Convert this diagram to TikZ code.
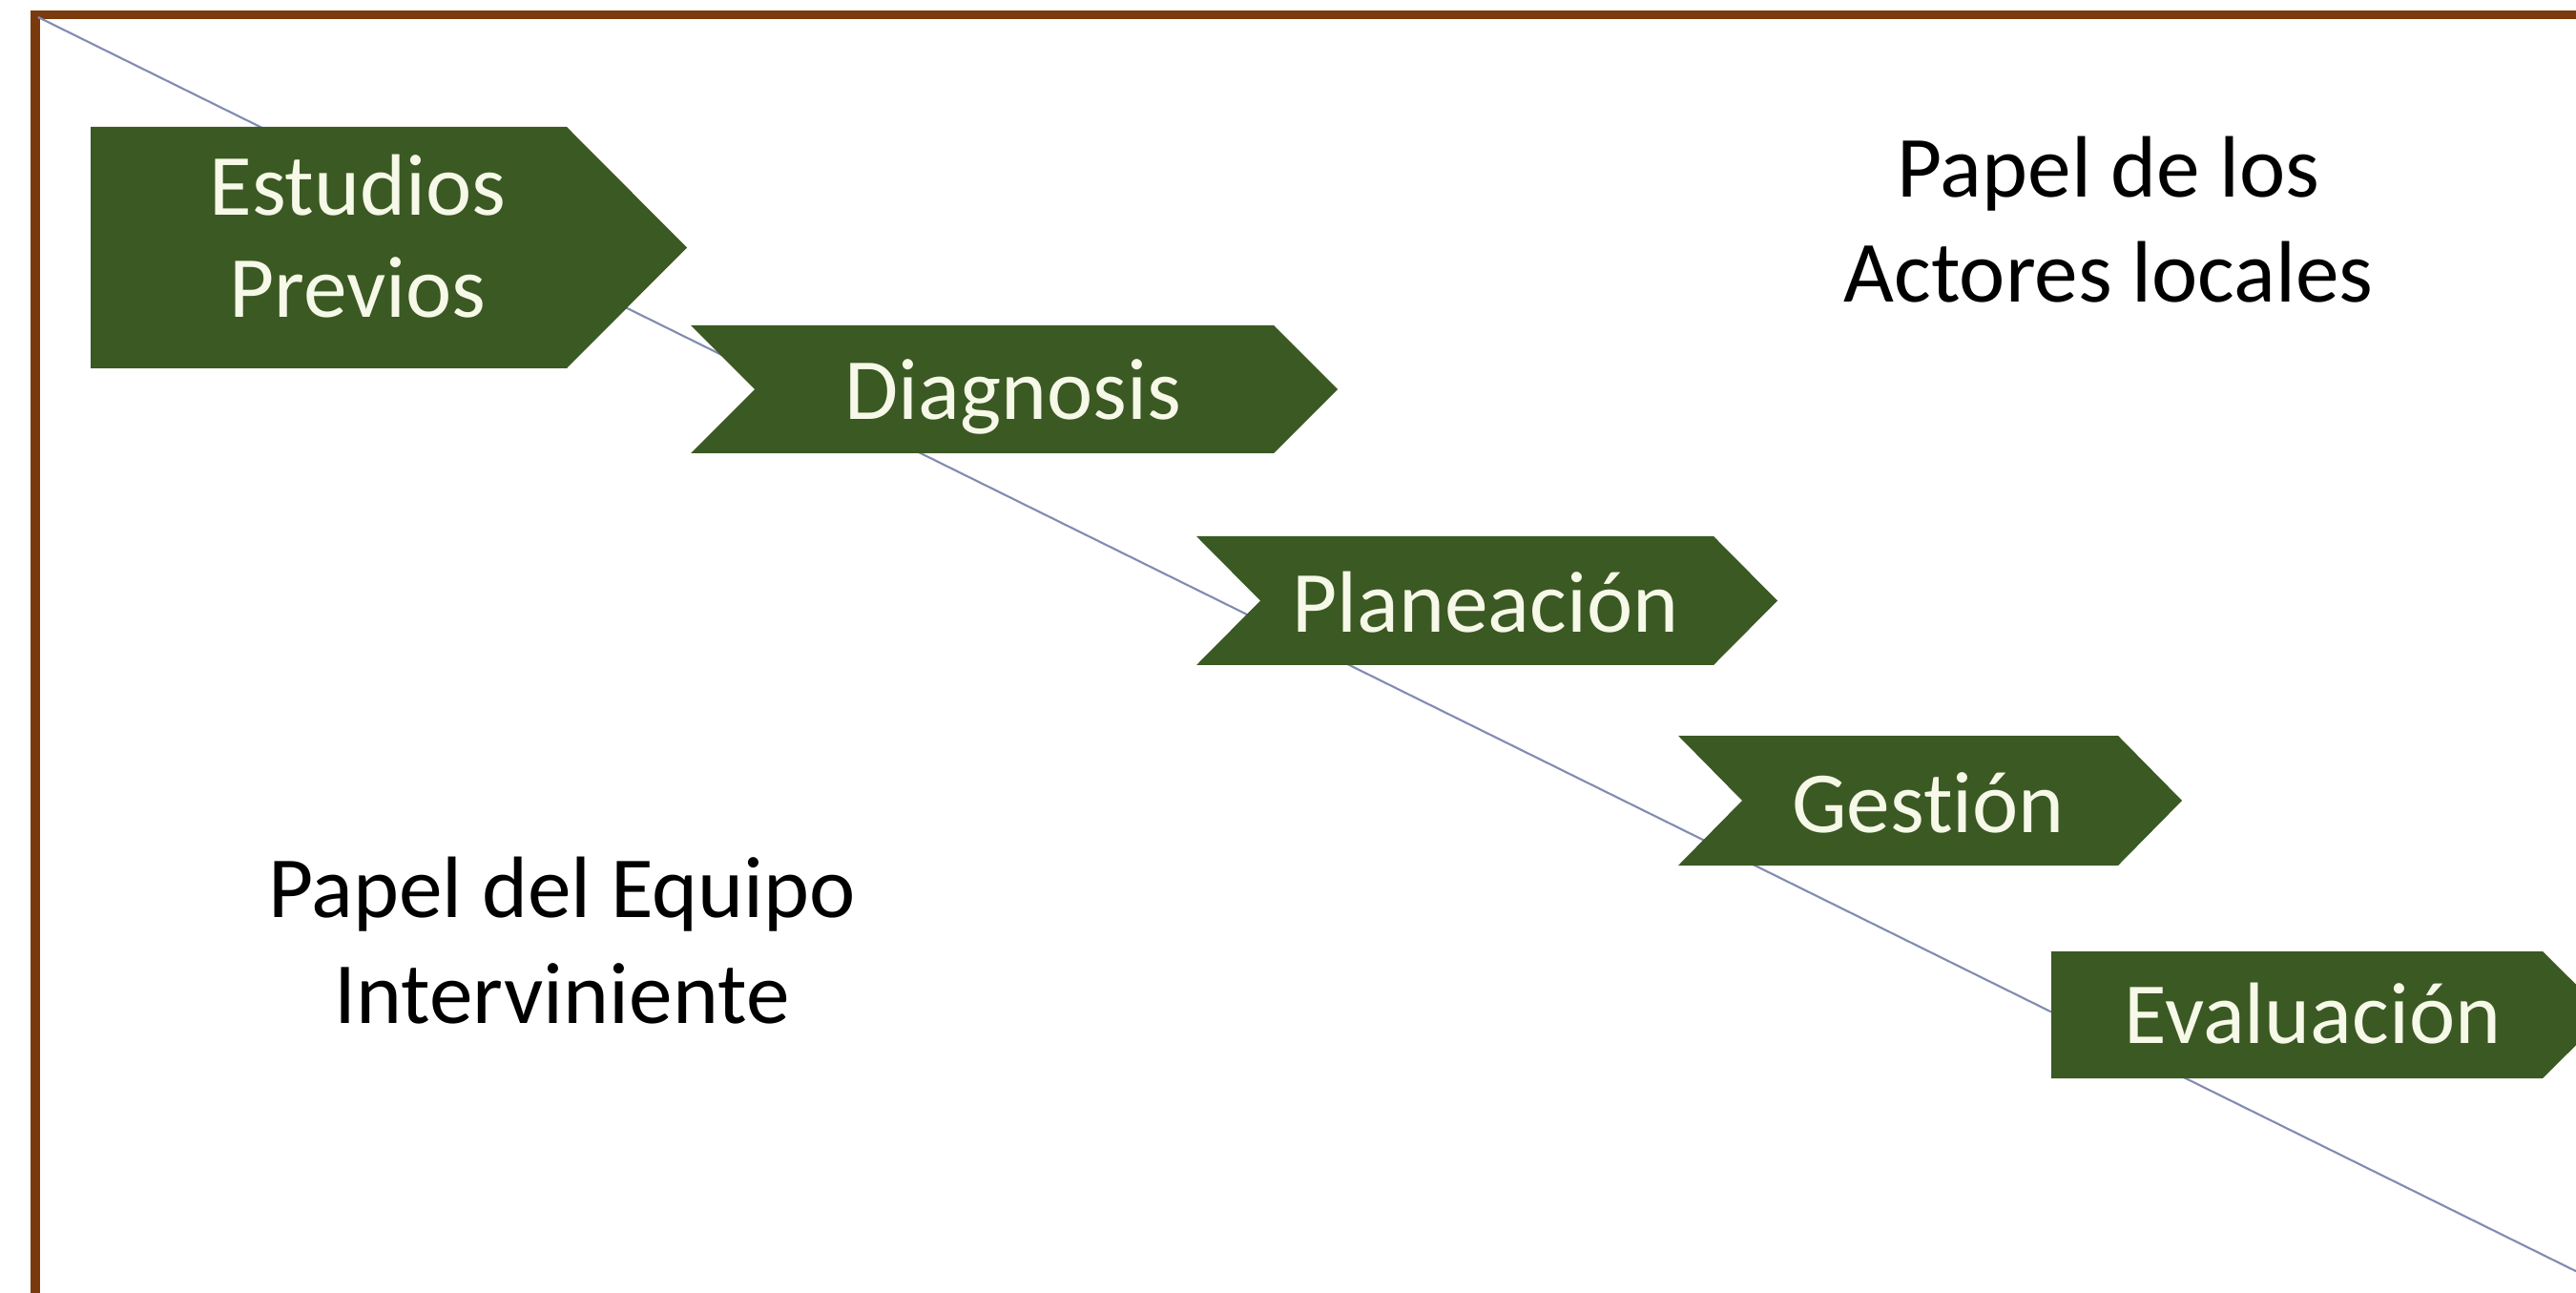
\documentclass[tikz,border=0pt]{standalone}
\usepackage{fontspec}
\setmainfont{Carlito}[Ligatures=NoCommon]
\usetikzlibrary{backgrounds}

\definecolor{stepgreen}{RGB}{59,89,35}
\definecolor{stepcream}{RGB}{246,248,232}
\definecolor{framebrown}{RGB}{122,58,14}
\definecolor{diagblue}{RGB}{130,140,178}

\begin{document}
\begin{tikzpicture}[background rectangle/.style={fill=white}, show background rectangle, inner frame sep=0pt,
  steplabel/.style={text=stepcream, anchor=base, align=center, inner sep=0pt, font=\fontsize{26}{30.5}\selectfont},
  rolelabel/.style={anchor=base, align=center, inner sep=0pt, font=\fontsize{26}{31.5}\selectfont}]

\useasboundingbox (0,0) rectangle (27,-13.55);

% frame
\draw[framebrown, line width=2.8pt] (0.37,-14) -- (0.37,-0.155) -- (28,-0.155);

% diagonal
\draw[diagblue, line width=0.6pt] (0.40,-0.18) -- (27.3,-13.47);

% chevrons
\fill[stepgreen] (0.95,-1.33) -- (5.94,-1.33) -- (7.20,-2.595) -- (5.94,-3.86) -- (0.95,-3.86) -- cycle;
\fill[stepgreen] (7.24,-3.41) -- (13.35,-3.41) -- (14.02,-4.08) -- (13.35,-4.75) -- (7.24,-4.75) -- (7.91,-4.08) -- cycle;
\fill[stepgreen] (12.54,-5.62) -- (17.96,-5.62) -- (18.63,-6.295) -- (17.96,-6.97) -- (12.54,-6.97) -- (13.21,-6.295) -- cycle;
\fill[stepgreen] (17.59,-7.71) -- (22.20,-7.71) -- (22.87,-8.39) -- (22.20,-9.07) -- (17.59,-9.07) -- (18.26,-8.39) -- cycle;
\fill[stepgreen] (21.50,-9.97) -- (26.65,-9.97) -- (27.32,-10.635) -- (26.65,-11.30) -- (21.50,-11.30) -- cycle;

% step names (base = last line)
\node[steplabel] (est) at (3.75,-3.33) {Estudios\\Previos};
\node[steplabel] (diag) at (10.62,-4.40) {Diagnosis};
\node[steplabel] (plan) at (15.57,-6.63) {Planeación};
\node[steplabel] (gest) at (20.21,-8.72) {Gestión};
\node[steplabel] (eval) at (24.24,-10.93) {Evaluación};

% roles
\node[rolelabel] (actores) at (22.10,-3.17) {Papel de los\\Actores locales};
\node[rolelabel] (equipo) at (5.89,-10.72) {Papel del Equipo\\Interviniente};

\end{tikzpicture}
\end{document}
